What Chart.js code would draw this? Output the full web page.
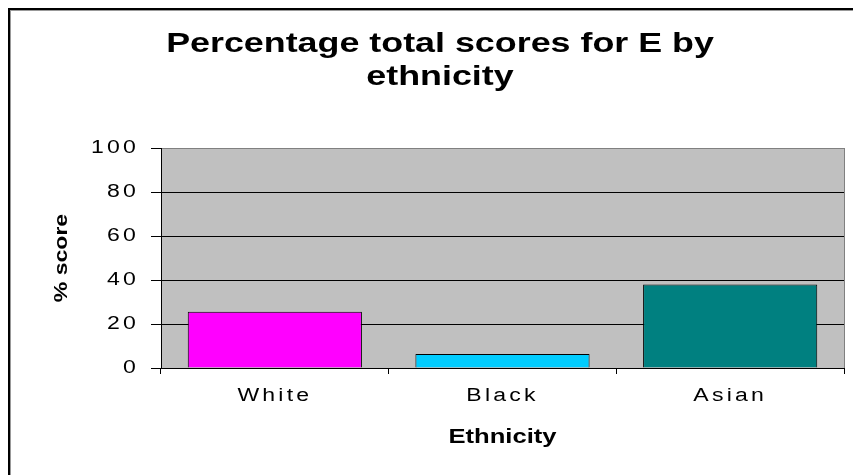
<!DOCTYPE html>
<html>
<head>
<meta charset="utf-8">
<script src="https://cdn.jsdelivr.net/npm/chart.js@4/dist/chart.umd.min.js"></script>
<style>
    html, body { margin: 0; padding: 0; background: #fff; }
    #chart { display: block; }
</style>
</head>
<body>
<canvas id="chart" width="853" height="475"></canvas>
<script>
const categories = ['White', 'Black', 'Asian'];
const scores = [25.6, 6.4, 38];
const barColors = ['#FF00FF', '#00CCFF', '#008080'];
const titleLines = ['Percentage total scores for E by', 'ethnicity'];
const xTitle = 'Ethnicity';
const yTitle = '% score';

// the reference text is stretched sideways, so widen every glyph run
const STRETCH = 1.28;
const baseFillText = CanvasRenderingContext2D.prototype.fillText;

// gray plot area + outer frame + title, drawn around the library's layout
const framePlugin = {
    id: 'frame',
    beforeDraw: (chart) => {
        const ctx = chart.ctx;
        const a = chart.chartArea;
        ctx.save();
        ctx.fillStyle = '#fff';
        ctx.fillRect(0, 0, chart.width, chart.height);
        ctx.fillStyle = '#C0C0C0';
        ctx.fillRect(a.left, a.top, a.right - a.left, a.bottom - a.top);
        ctx.strokeStyle = '#808080';
        ctx.lineWidth = 1;
        ctx.strokeRect(a.left + 0.5, a.top + 0.5, a.right - a.left, a.bottom - a.top);

        ctx.fillStyle = '#000';
        ctx.fillRect(8, 8, chart.width, 2);
        ctx.fillRect(8, 8, 2, chart.height);
        ctx.fillStyle = '#999';
        ctx.fillRect(10, 10, chart.width, 1);
        ctx.fillRect(10, 10, 1, chart.height);
        ctx.restore();
        ctx.letterSpacing = '2.5px';
    },
    afterDraw: (chart) => {
        const ctx = chart.ctx;
        ctx.save();
        ctx.font = 'bold 28px "Liberation Sans", Arial, sans-serif';
        ctx.fillStyle = '#000';
        ctx.textAlign = 'center';
        ctx.textBaseline = 'alphabetic';
        ctx.fillText(titleLines[0], 440, 52);
        ctx.fillText(titleLines[1], 440, 85);
        ctx.restore();
        ctx.letterSpacing = '0px';
    }
};

const options = {
    responsive: false,
    animation: false,
    layout: {
        padding: { left: 0, top: 148, right: 9, bottom: 0 }
    },
    scales: {
        x: {
            offset: true,
            afterFit: (scale) => { scale.height = 107; },
            grid: {
                offset: true,
                drawOnChartArea: false,
                color: '#000',
                tickLength: 6
            },
            border: { color: '#000', width: 1 },
            ticks: {
                color: '#000',
                padding: 11,
                font: { family: '"Liberation Sans", Arial, sans-serif', size: 18 }
            },
            title: {
                display: true,
                text: xTitle,
                color: '#000',
                padding: { top: 0, bottom: 26 },
                font: { family: '"Liberation Sans", Arial, sans-serif', size: 20, weight: 'bold' }
            }
        },
        y: {
            min: 0,
            max: 100,
            afterFit: (scale) => { scale.width = 161; },
            grid: {
                color: (c) => c.tick && c.tick.value === 100 ? '#808080' : '#000',
                tickColor: '#000',
                tickLength: 10
            },
            border: { color: '#000', width: 1 },
            ticks: {
                stepSize: 20,
                color: '#000',
                padding: 12,
                font: { family: '"Liberation Sans", Arial, sans-serif', size: 18 }
            },
            title: {
                display: true,
                text: yTitle,
                color: '#000',
                padding: { top: 51, bottom: 0 },
                font: { family: '"Liberation Sans", Arial, sans-serif', size: 18, weight: 'bold' }
            }
        }
    },
    plugins: {
        title: { display: false },
        legend: { display: false },
        tooltip: { enabled: false }
    }
};

const data = {
    labels: categories,
    datasets: [{
        data: scores,
        backgroundColor: barColors,
        borderColor: '#000',
        borderWidth: 1,
        categoryPercentage: 1,
        barPercentage: 0.765
    }]
};

const ctx = document.getElementById('chart').getContext('2d');
ctx.fillText = function (text, x, y) {
    this.save();
    this.translate(x, y);
    this.scale(STRETCH, 1);
    if (this.font.indexOf('bold') >= 0) {
        this.letterSpacing = '0px';
    }
    baseFillText.call(this, text, 0, 0);
    this.restore();
};

const chart = new Chart(ctx, {
    type: 'bar',
    data: data,
    options: options,
    plugins: [framePlugin]
});
</script>
</body>
</html>
